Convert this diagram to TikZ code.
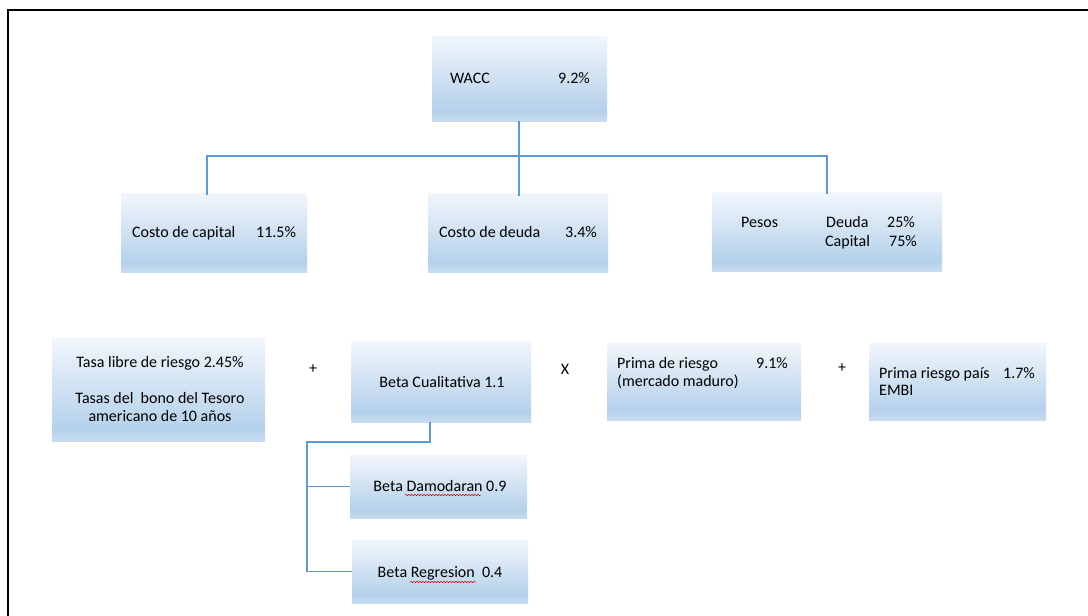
\documentclass[tikz,border=0pt]{standalone}
\usepackage{fontspec}
\setmainfont{Carlito}
\usetikzlibrary{fit,decorations.pathmorphing}
\definecolor{bxtop}{HTML}{F2F6FC}
\definecolor{bxmid}{HTML}{B4D1EB}
\definecolor{bxbot}{HTML}{C8DCF0}
\definecolor{conn}{HTML}{5B9BD5}
\pgfdeclareverticalshading{officeblue}{100bp}{color(0bp)=(bxbot); color(25bp)=(bxbot); color(31bp)=(bxmid); color(75bp)=(bxtop); color(100bp)=(bxtop)}
\begin{document}
\begin{tikzpicture}[x=1pt,y=-1pt,
  box/.style={draw=none, shading=officeblue, inner sep=0pt, outer sep=0pt},
  txt/.style={inner sep=0pt, anchor=west, text height=11pt, text depth=3pt, font=\fontsize{16}{18}\selectfont},
  ctxt/.style={txt, anchor=center},
  link/.style={draw=conn, line width=1.3pt},
  wave/.style={draw=red!85!black, line width=0.5pt, decorate, decoration={snake, amplitude=0.7pt, segment length=3pt}}]
\useasboundingbox (0,0) rectangle (1088,616);
\fill[white] (0,0) rectangle (1088,616);
% frame
\draw[line width=2pt] (7.5,616) -- (7.5,10) -- (1088,10);
% boxes
\node[box, fit={(432,36) (607,121)}] (wacc) {};
\node[box, fit={(121,193) (307,272)}] (cap) {};
\node[box, fit={(428,193) (608,272)}] (deuda) {};
\node[box, fit={(712,192) (942,271)}] (peso) {};
\node[box, fit={(52,338) (265,441)}] (tasa) {};
\node[box, fit={(351,341) (531,422)}] (betaq) {};
\node[box, fit={(607,343) (801,420)}] (prima) {};
\node[box, fit={(869,343) (1046,420)}] (pais) {};
\node[box, fit={(350,455) (527,518)}] (betad) {};
\node[box, fit={(352,540) (528,603)}] (betar) {};
% texts
\node[txt] (t1a) at (450,79) {WACC};
\node[txt] (t1b) at (558,79) {9.2\%};
\node[txt] (t2a) at (132,233) {Costo de capital};
\node[txt] (t2b) at (256,233) {11.5\%};
\node[txt] (t3a) at (439,233) {Costo de deuda};
\node[txt] (t3b) at (565,233) {3.4\%};
\node[txt] (t4a) at (741,223) {Pesos};
\node[txt] (t4b) at (826,223) {Deuda};
\node[txt] (t4c) at (887,223) {25\%};
\node[txt] (t4d) at (825,242) {Capital};
\node[txt] (t4e) at (889,242) {75\%};
\node[ctxt] (t5a) at (160,363) {Tasa libre de riesgo 2.45\%};
\node[ctxt] (t5b) at (160,399) {Tasas del\ \ bono del Tesoro};
\node[ctxt] (t5c) at (160,417) {americano de 10 años};
\node[ctxt] (plus1) at (313,369) {+};
\node[ctxt] (t6) at (442,383) {Beta Cualitativa 1.1};
\node[ctxt] (times) at (565,370) {X};
\node[txt] (t7a) at (617,364) {Prima de riesgo};
\node[txt] (t7b) at (756,364) {9.1\%};
\node[txt] (t7c) at (617,382) {(mercado maduro)};
\node[ctxt] (plus2) at (842,368) {+};
\node[txt] (t8a) at (879,374) {Prima riesgo país};
\node[txt] (t8b) at (1003,374) {1.7\%};
\node[txt] (t8c) at (879,391) {EMBI};
\node[ctxt] (t9) at (440,487) {Beta Damodaran 0.9};
\node[ctxt] (t10) at (440,573) {Beta Regresion\ \ 0.4};
% spell-check underlines
\draw[wave] (405,495) -- (481,495);
\draw[wave] (410,582) -- (476,582);
% connectors
\coordinate (bar) at (519,156);
\draw[link] (wacc.south -| bar) -- ([yshift=-3pt]deuda.north -| bar);
\draw[link] ([xshift=-7pt,yshift=-2pt]cap.north) |- (bar) -| ([yshift=-2pt]peso.north);
\coordinate (bj) at (307,442);
\draw[link] ([xshift=-11pt]betaq.south) |- (bj) |- (betar.west);
\draw[link] (bj |- betad.west) -- (betad.west);
\end{tikzpicture}
\end{document}
